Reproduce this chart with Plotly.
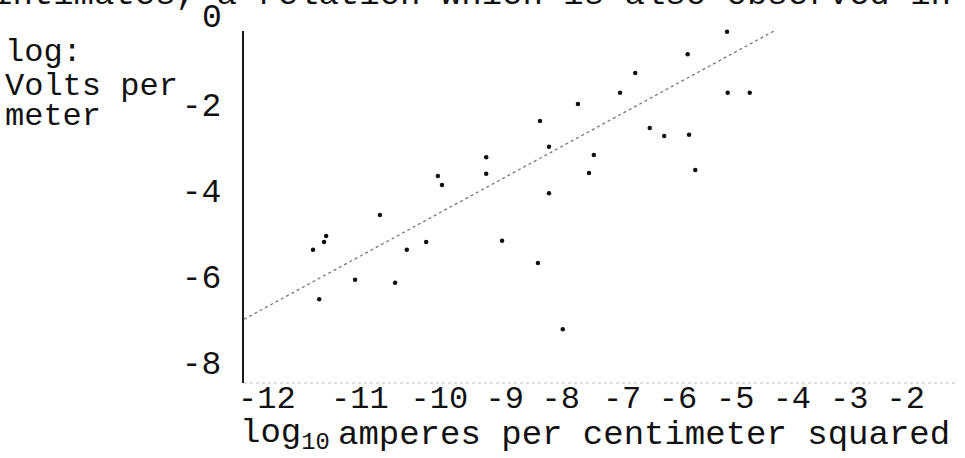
import plotly.graph_objects as go

# ---- data ----
# log10 current density (A/cm^2) and log10 field (V/m) of the plotted points
x_log_current = [-11.00, -10.84, -10.81, -10.91, -10.39, -10.03, -9.81, -9.64,
                 -9.36, -9.19, -9.13, -8.49, -8.49, -8.26, -7.74, -7.58,
                 -7.58, -7.71, -7.38, -7.16, -6.93, -7.00, -6.55, -6.33,
                 -6.12, -5.91, -5.57, -5.55, -5.46, -5.00, -4.99, -4.67]
y_log_field = [-5.38, -5.20, -5.06, -6.53, -6.08, -4.57, -6.15, -5.38,
               -5.20, -3.66, -3.87, -3.22, -3.61, -5.17, -5.69, -2.98,
               -4.06, -2.38, -7.23, -1.98, -3.17, -3.59, -1.72, -1.26,
               -2.54, -2.73, -0.82, -2.70, -3.52, -0.30, -1.72, -1.72]

# fitted straight line (end points)
fit_x = [-12, -4]
fit_y = [-7, 0]

# typed tick labels and where they sit on the x scale
x_tick_labels = ["-12", "-11", "-10", "-9", "-8", "-7", "-6", "-5", "-4", "-3", "-2"]
x_tick_positions = [-11.67, -10.32, -9.17, -8.22, -7.41, -6.52, -5.71, -4.88, -4.06, -3.23, -2.41]
y_tick_values = [-2, -4, -6, -8]
y_tick_labels = ["-2", "-4", "-6", "-8"]
y_top_value = 0
y_top_label = "0"

# ---- layout geometry ----
W, H = 965, 458
L, R, T, B = 244, 955, 31, 383
FONT = "Liberation Mono"
INK = "#111111"

x_range = [-12, -12 + (R - L) / 69.0]
y_range = [-(B - 19) / 42.9, -(T - 19) / 42.9]


def px_x(px):
    return (px - L) / (R - L)


def px_y(py):
    return (B - py) / (B - T)


def val_y(v):
    return (v - y_range[0]) / (y_range[1] - y_range[0])


fig = go.Figure()

fig.add_trace(go.Scatter(
    x=fit_x, y=fit_y, mode="lines",
    line=dict(color="#777777", width=1.3, dash="dot"),
    hoverinfo="skip", showlegend=False, cliponaxis=False,
))

fig.add_trace(go.Scatter(
    x=x_log_current, y=y_log_field, mode="markers",
    marker=dict(color=INK, size=4.5),
    showlegend=False, cliponaxis=False,
))

fig.update_layout(
    width=W, height=H,
    margin=dict(l=L, r=W - R, t=T, b=H - B, pad=0),
    paper_bgcolor="white", plot_bgcolor="white",
    font=dict(family=FONT, size=34, color=INK),
    xaxis=dict(
        range=x_range,
        showgrid=False, zeroline=False, showline=False,
        tickmode="array", tickvals=x_tick_positions, ticktext=x_tick_labels,
        ticks="", ticklabelstandoff=-8,
        tickfont=dict(family=FONT, size=32, color=INK),
    ),
    yaxis=dict(
        range=y_range,
        showgrid=False, zeroline=False,
        showline=True, linecolor="#1a1a1a", linewidth=2,
        tickmode="array", tickvals=y_tick_values, ticktext=y_tick_labels,
        ticks="", ticklabelstandoff=14,
        tickfont=dict(family=FONT, size=33, color=INK),
    ),
)

# faint dotted base line under the plot
fig.add_shape(type="line", xref="x domain", yref="y domain",
              x0=0, x1=1, y0=0, y1=0,
              line=dict(color="#bbbbbb", width=1, dash="dot"))

annotations = [
    # text cut off at the top of the page
    dict(text="intimates, a relation which is also observed in man",
         x=px_x(-10), y=px_y(-5), xanchor="left", yanchor="middle", size=34),
    # y axis title
    dict(text="log:", x=px_x(3), y=px_y(52), xanchor="left", yanchor="middle", size=32),
    dict(text="Volts per", x=px_x(3), y=px_y(86), xanchor="left", yanchor="middle", size=32),
    dict(text="meter", x=px_x(3), y=px_y(116), xanchor="left", yanchor="middle", size=32),
    # x axis title
    dict(text="log<sub>10</sub>", x=px_x(238), y=px_y(435), xanchor="left", yanchor="middle", size=34),
    dict(text="amperes per centimeter squared", x=px_x(336), y=px_y(435),
         xanchor="left", yanchor="middle", size=34),
]
final = []
for a in annotations:
    size = a.pop("size")
    a.update(xref="paper", yref="paper", showarrow=False,
             font=dict(family=FONT, size=size, color=INK))
    final.append(a)

# "0" label of the y scale, typed above the top of the axis line
final.append(dict(text=y_top_label, x=px_x(224), xref="paper",
                  y=val_y(y_top_value), yref="paper",
                  xanchor="right", yanchor="middle", showarrow=False,
                  font=dict(family=FONT, size=33, color=INK)))
fig.update_layout(annotations=final)

fig.write_html("out.html", config={"displayModeBar": False},
               post_script="document.body.style.margin='0';")
